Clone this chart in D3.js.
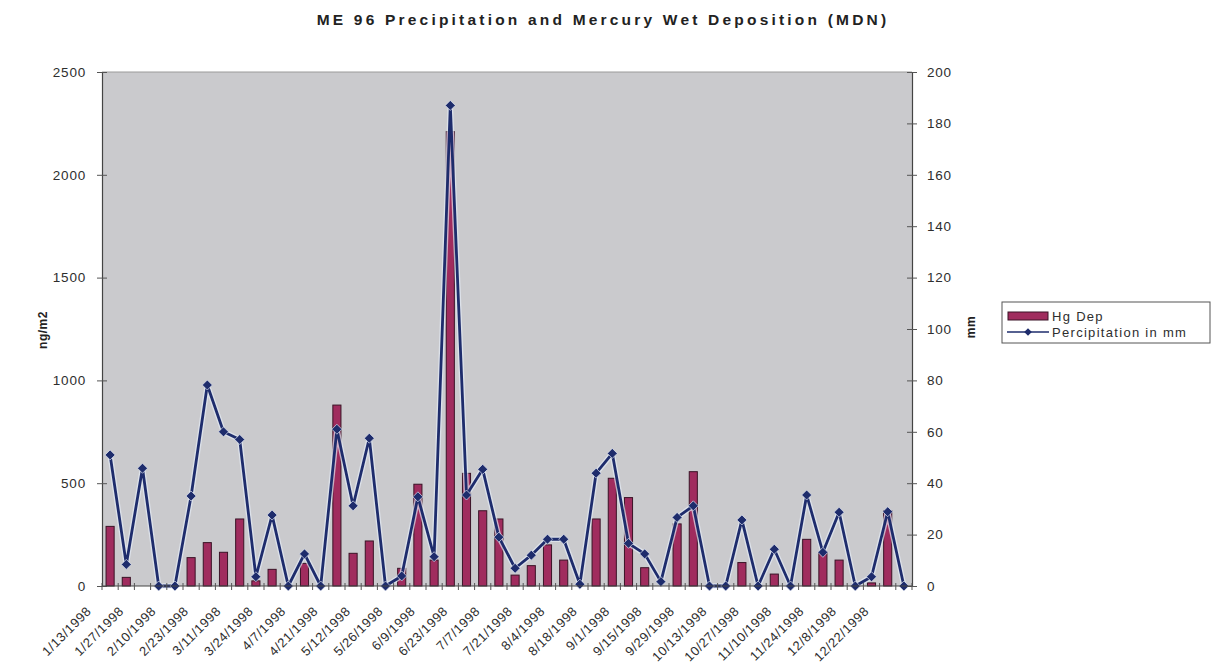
<!DOCTYPE html>
<html>
<head>
<meta charset="utf-8">
<script src="https://cdn.jsdelivr.net/npm/d3@7"></script>
<style>
  html, body { margin: 0; padding: 0; background: #ffffff; }
  svg { display: block; font-family: "Liberation Sans", Arial, sans-serif; }
</style>
</head>
<body>
<svg id="chart" width="1212" height="665"></svg>
<script>
// Sample dates (weekly MDN collection periods, 1998)
const dates = [
  "1/13/1998","1/20/1998","1/27/1998","2/3/1998","2/10/1998","2/17/1998","2/23/1998","3/3/1998",
  "3/11/1998","3/17/1998","3/24/1998","3/31/1998","4/7/1998","4/14/1998","4/21/1998","5/5/1998",
  "5/12/1998","5/19/1998","5/26/1998","6/2/1998","6/9/1998","6/16/1998","6/23/1998","6/30/1998",
  "7/7/1998","7/14/1998","7/21/1998","7/28/1998","8/4/1998","8/11/1998","8/18/1998","8/25/1998",
  "9/1/1998","9/8/1998","9/15/1998","9/22/1998","9/29/1998","10/6/1998","10/13/1998","10/20/1998",
  "10/27/1998","11/3/1998","11/10/1998","11/17/1998","11/24/1998","12/1/1998","12/8/1998","12/15/1998",
  "12/22/1998","12/29/1998"
];

// Mercury wet deposition, ng/m2
const hgDep = [
  290, 42, 0, 0, 0, 138, 211, 164, 326, 25,
  81, 0, 110, 0, 880, 159, 219, 0, 86, 495,
  126, 2210, 548, 366, 326, 53, 99, 200, 126, 0,
  326, 524, 430, 89, 0, 302, 556, 0, 0, 114,
  0, 58, 0, 227, 164, 126, 0, 15, 366, 0
];

// Precipitation, mm
const precip = [
  51, 8.4, 45.8, 0, 0, 35, 78.2, 60, 57, 3.6,
  27.6, 0, 12.5, 0, 61, 31.2, 57.5, 0, 3.9, 34.7,
  11.4, 187, 35.4, 45.4, 19, 6.9, 12, 18.2, 18.2, 0.7,
  43.9, 51.6, 16.6, 12.5, 1.7, 26.7, 31.2, 0, 0, 25.7,
  0, 14.3, 0, 35.4, 13.1, 28.7, 0, 3.6, 28.9, 0
];

// Axis ticks
const leftTicks = [0, 500, 1000, 1500, 2000, 2500];
const rightTicks = [0, 20, 40, 60, 80, 100, 120, 140, 160, 180, 200];
// Every other sample date is labelled on the category axis
const labelledDates = dates.filter((d, i) => i % 2 === 0);

const titleText = "ME 96 Precipitation and Mercury Wet Deposition (MDN)";
const seriesNames = ["Hg Dep", "Percipitation in mm"];

const svg = d3.select("#chart");
const plot = { left: 102, right: 912, top: 72, bottom: 586 };

const x = d3.scaleBand().domain(dates).range([plot.left, plot.right]).paddingInner(0).paddingOuter(0);
const yL = d3.scaleLinear().domain([0, 2500]).range([plot.bottom, plot.top]);
const yR = d3.scaleLinear().domain([0, 200]).range([plot.bottom, plot.top]);

const barColor = "#a02c5e";
const lineColor = "#1e2c6c";
const textColor = "#2e2e2e";

// Plot area
svg.append("rect")
  .attr("x", plot.left).attr("y", plot.top)
  .attr("width", plot.right - plot.left).attr("height", plot.bottom - plot.top)
  .attr("fill", "#cacacd");
svg.append("line")
  .attr("x1", plot.left).attr("x2", plot.right)
  .attr("y1", plot.top).attr("y2", plot.top)
  .attr("stroke", "#9a9a9a").attr("stroke-width", 1);

// Bars
const bw = x.bandwidth() * 0.5;
svg.append("g").selectAll("rect")
  .data(hgDep.map((v, i) => ({ d: dates[i], v })).filter(o => o.v > 0))
  .join("rect")
  .attr("x", o => x(o.d) + (x.bandwidth() - bw) / 2)
  .attr("y", o => yL(o.v))
  .attr("width", bw)
  .attr("height", o => yL(0) - yL(o.v))
  .attr("fill", barColor)
  .attr("stroke", "#3a1326")
  .attr("stroke-width", 1);

// Precipitation line (with a light halo underneath)
const cx = d => x(d) + x.bandwidth() / 2;
const pts = precip.map((v, i) => [cx(dates[i]), yR(v)]);
const lineGen = d3.line();
svg.append("path").attr("d", lineGen(pts))
  .attr("fill", "none").attr("stroke", "#e4ebf5").attr("stroke-opacity", 0.7)
  .attr("stroke-width", 5.5).attr("stroke-linejoin", "round");
svg.append("path").attr("d", lineGen(pts))
  .attr("fill", "none").attr("stroke", lineColor)
  .attr("stroke-width", 2.8).attr("stroke-linejoin", "round");

const diamond = s => `M0,${-s}L${s},0L0,${s}L${-s},0Z`;
svg.append("g").selectAll("path")
  .data(pts)
  .join("path")
  .attr("transform", p => `translate(${p[0]},${p[1]})`)
  .attr("d", diamond(5))
  .attr("fill", lineColor)
  .attr("stroke", "#dfe6f2").attr("stroke-opacity", 0.7).attr("stroke-width", 1);

// Left axis
const gL = svg.append("g").attr("transform", `translate(${plot.left},0)`)
  .call(d3.axisLeft(yL).tickValues(leftTicks).tickFormat(d3.format("d")).tickSizeInner(5).tickSizeOuter(0).tickPadding(11));
// Right axis
const gR = svg.append("g").attr("transform", `translate(${plot.right},0)`)
  .call(d3.axisRight(yR).tickValues(rightTicks).tickFormat(d3.format("d")).tickSizeInner(5).tickSizeOuter(0).tickPadding(10));
// Bottom axis: ticks at category boundaries
const boundaries = dates.map(d => x(d)).concat([plot.right]);
const gB = svg.append("g");
gB.append("line").attr("x1", plot.left).attr("x2", plot.right)
  .attr("y1", plot.bottom).attr("y2", plot.bottom).attr("stroke", "#444").attr("stroke-width", 1.2);
gB.selectAll("line.tk").data(boundaries).join("line").attr("class", "tk")
  .attr("x1", d => d).attr("x2", d => d)
  .attr("y1", plot.bottom - 3).attr("y2", plot.bottom + 4)
  .attr("stroke", "#555").attr("stroke-width", 1);

[gL, gR].forEach(g => {
  g.select(".domain").attr("stroke", "#444").attr("stroke-width", 1.2);
  g.selectAll(".tick line").attr("stroke", "#555").attr("stroke-width", 1);
  g.selectAll(".tick text").attr("fill", textColor)
    .style("font-size", "13.5px").style("letter-spacing", "0.8px")
    .style("font-family", "'Liberation Sans', Arial, sans-serif");
});
// crossing ticks on the value axes
gL.selectAll(".tick line").attr("x1", 5);
gR.selectAll(".tick line").attr("x1", -5);

// Category labels (rotated)
svg.append("g").selectAll("text")
  .data(labelledDates)
  .join("text")
  .attr("transform", d => `translate(${cx(d) - 18},${plot.bottom + 26}) rotate(-45)`)
  .attr("text-anchor", "end")
  .attr("fill", textColor)
  .style("font-size", "13px").style("letter-spacing", "0.6px")
  .text(d => d);

// Title
svg.append("text")
  .attr("x", 603).attr("y", 25)
  .attr("text-anchor", "middle")
  .attr("fill", "#222")
  .style("font-size", "15.5px").style("font-weight", "bold").style("letter-spacing", "3.2px")
  .text(titleText);

// Axis titles
svg.append("text")
  .attr("transform", "translate(47,330) rotate(-90)")
  .attr("text-anchor", "middle").attr("fill", "#222")
  .style("font-size", "12px").style("font-weight", "bold").style("letter-spacing", "0.5px")
  .text("ng/m2");
svg.append("text")
  .attr("transform", "translate(975,327) rotate(-90)")
  .attr("text-anchor", "middle").attr("fill", "#222")
  .style("font-size", "12px").style("font-weight", "bold").style("letter-spacing", "0.5px")
  .text("mm");

// Legend
const lg = svg.append("g").attr("transform", "translate(1002,302)");
lg.append("rect").attr("x", 0).attr("y", 0).attr("width", 208).attr("height", 41)
  .attr("fill", "#fff").attr("stroke", "#555").attr("stroke-width", 1);
lg.append("rect").attr("x", 6).attr("y", 10).attr("width", 40).attr("height", 8)
  .attr("fill", barColor).attr("stroke", "#3a1326");
lg.append("text").attr("x", 50).attr("y", 19).attr("fill", textColor)
  .style("font-size", "13px").style("letter-spacing", "1.3px").text(seriesNames[0]);
lg.append("line").attr("x1", 5).attr("x2", 47).attr("y1", 30).attr("y2", 30)
  .attr("stroke", lineColor).attr("stroke-width", 1.5);
lg.append("path").attr("transform", "translate(26,30)").attr("d", diamond(3.8)).attr("fill", lineColor);
lg.append("text").attr("x", 50).attr("y", 35).attr("fill", textColor)
  .style("font-size", "13px").style("letter-spacing", "1.3px").text(seriesNames[1]);
</script>
</body>
</html>
